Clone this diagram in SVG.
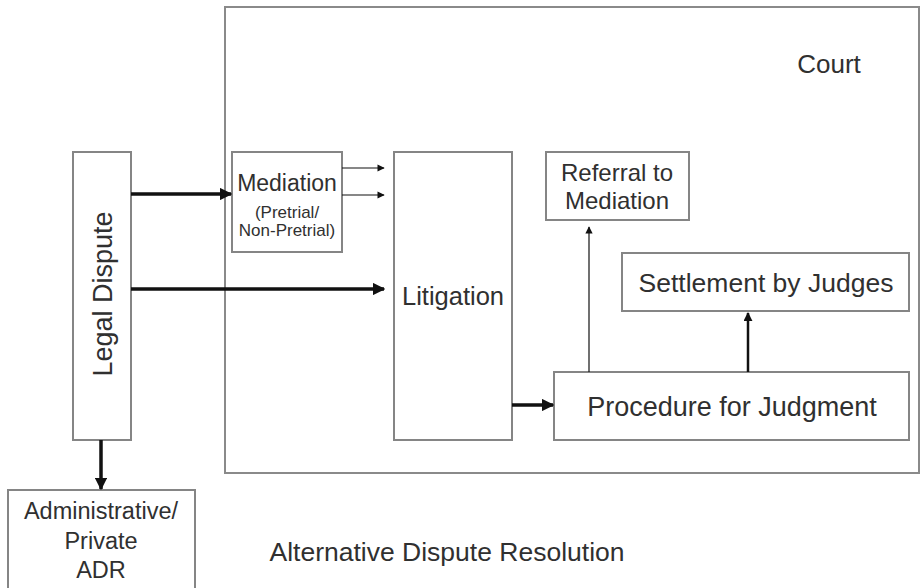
<svg xmlns="http://www.w3.org/2000/svg" width="921" height="588" viewBox="0 0 921 588">
  <style>
    .box { fill: #ffffff; stroke: #858585; stroke-width: 2; }
    .frame { fill: none; stroke: #8a8a8a; stroke-width: 2; }
    text { font-family: "Liberation Sans", Arial, sans-serif; fill: #303030; text-anchor: middle; }
    .thick { stroke: #111; stroke-width: 3.5; fill: none; }
    .mid { stroke: #111; stroke-width: 2.5; fill: none; }
    .thin { stroke: #111; stroke-width: 1.2; fill: none; }
  </style>
  <defs>
    <marker id="ahBig" viewBox="0 0 10 10" refX="9" refY="5" markerWidth="3.6" markerHeight="3.6" markerUnits="strokeWidth" orient="auto">
      <path d="M0,0 L10,5 L0,10 z" fill="#111"/>
    </marker>
    <marker id="ahSmall" viewBox="0 0 10 10" refX="9" refY="5" markerWidth="7" markerHeight="6" markerUnits="strokeWidth" orient="auto">
      <path d="M0,0 L10,5 L0,10 z" fill="#111"/>
    </marker>
  </defs>

  <rect width="921" height="588" fill="#ffffff"/>

  <!-- Court frame -->
  <g id="court">
    <rect class="frame" x="225" y="7" width="694" height="466"/>
    <text x="829" y="73" font-size="26">Court</text>
  </g>

  <g id="legal-dispute">
    <rect class="box" x="73" y="152" width="58" height="288"/>
    <text transform="translate(112,294) rotate(-90)" font-size="27">Legal Dispute</text>
  </g>

  <g id="mediation">
    <rect class="box" x="232" y="152" width="110" height="100"/>
    <text x="287" y="191" font-size="23">Mediation</text>
    <text x="287" y="218" font-size="17">(Pretrial/</text>
    <text x="287" y="236" font-size="17">Non-Pretrial)</text>
  </g>

  <g id="litigation">
    <rect class="box" x="394" y="152" width="118" height="288"/>
    <text x="453" y="305" font-size="25.5">Litigation</text>
  </g>

  <g id="referral">
    <rect class="box" x="546" y="152" width="143" height="68"/>
    <text x="617" y="181" font-size="24">Referral to</text>
    <text x="617" y="209" font-size="24">Mediation</text>
  </g>

  <g id="settlement">
    <rect class="box" x="622" y="253" width="287" height="58"/>
    <text x="766" y="292" font-size="26.5">Settlement by Judges</text>
  </g>

  <g id="procedure">
    <rect class="box" x="554" y="372" width="355" height="68"/>
    <text x="732" y="416" font-size="27">Procedure for Judgment</text>
  </g>

  <g id="adr">
    <rect class="box" x="8" y="490" width="187" height="100"/>
    <text x="101" y="519" font-size="23.5">Administrative/</text>
    <text x="101" y="549" font-size="23.5">Private</text>
    <text x="101" y="578" font-size="23.5">ADR</text>
  </g>

  <g id="alt-label">
    <text x="447" y="561" font-size="26.5">Alternative Dispute Resolution</text>
  </g>

  <!-- Connectors -->
  <g id="connectors">
    <line class="thick" x1="131" y1="194" x2="231" y2="194" marker-end="url(#ahBig)"/>
    <line class="thick" x1="131" y1="289" x2="384" y2="289" marker-end="url(#ahBig)"/>
    <line class="thin" x1="342" y1="168" x2="384" y2="168" marker-end="url(#ahSmall)"/>
    <line class="thin" x1="342" y1="195" x2="384" y2="195" marker-end="url(#ahSmall)"/>
    <line class="thick" x1="512" y1="405" x2="553" y2="405" marker-end="url(#ahBig)"/>
    <line class="thin" x1="589" y1="372" x2="589" y2="227" marker-end="url(#ahSmall)"/>
    <line class="mid" x1="748" y1="372" x2="748" y2="313" marker-end="url(#ahBig)"/>
    <line class="thick" x1="101" y1="440" x2="101" y2="489" marker-end="url(#ahBig)"/>
  </g>
</svg>
